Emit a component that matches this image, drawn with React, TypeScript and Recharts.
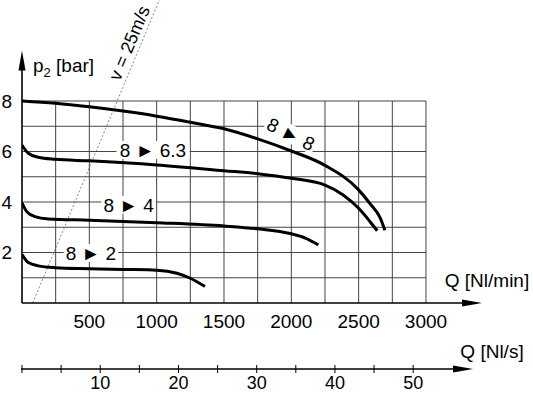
import React from 'react'
import { LineChart, Line, XAxis, YAxis, ReferenceLine, ReferenceDot } from 'recharts'

// flow in Nl/min and outlet pressure p2 in bar
const q88 = [0, 250, 500, 750, 1000, 1250, 1500, 1750, 2000, 2250, 2500, 2585, 2660, 2695]
const p88 = [8.0, 7.91, 7.77, 7.6, 7.4, 7.16, 6.9, 6.5, 6.02, 5.45, 4.48, 3.93, 3.37, 2.88]

const q863 = [0, 47, 121, 245, 500, 1000, 1500, 1750, 2000, 2250, 2385, 2500, 2585, 2638]
const p863 = [6.25, 5.93, 5.77, 5.69, 5.63, 5.47, 5.24, 5.12, 4.94, 4.67, 4.28, 3.75, 3.22, 2.86]

const q84 = [0, 35, 97, 196, 500, 1000, 1500, 1750, 2000, 2100, 2200]
const p84 = [3.97, 3.62, 3.42, 3.33, 3.28, 3.18, 3.05, 2.94, 2.74, 2.58, 2.3]

const q82 = [0, 47, 121, 245, 500, 750, 1000, 1150, 1250, 1359]
const p82 = [1.92, 1.6, 1.47, 1.4, 1.36, 1.33, 1.3, 1.18, 0.98, 0.65]

// v = 25 m/s limit line
const qSpeed = [80, 1020]
const pSpeed = [0, 12]

const qTicks = [500, 1000, 1500, 2000, 2500, 3000]
const pTicks = [2, 4, 6, 8]
const qGrid = [250, 500, 750, 1000, 1250, 1500, 1750, 2000, 2250, 2500, 2750, 3000]
const pGrid = [1, 2, 3, 4, 5, 6, 7, 8]
// second flow scale in Nl/s
const sTicks = [0, 5, 10, 15, 20, 25, 30, 35, 40, 45, 50]

const Q_MAX = 3416
const P_ARROW = 10
const S_MAX = 58.8

const tags = [
  { text: '8 \u25BA 8', q: 1997, p: 6.69, angle: 27 },
  { text: '8 \u25BA 6.3', q: 973, p: 6.06, angle: 0 },
  { text: '8 \u25BA 4', q: 792, p: 3.89, angle: 0 },
  { text: '8 \u25BA 2', q: 512, p: 1.98, angle: 0 },
]

const toPts = (xs: number[], ys: number[]) => xs.map((x, i) => ({ x, y: ys[i] }))

const curves = [
  { name: '8-8', data: toPts(q88, p88) },
  { name: '8-6.3', data: toPts(q863, p863) },
  { name: '8-4', data: toPts(q84, p84) },
  { name: '8-2', data: toPts(q82, p82) },
]

const FS = 19

function XArrow(props: any) {
  const { x1, y1, x2 } = props
  return (
    <g>
      <line x1={x1} y1={y1} x2={x2 - 12} y2={y1} stroke="#000" strokeWidth={1.6} />
      <polygon points={`${x2},${y1} ${x2 - 20},${y1 - 3.5} ${x2 - 20},${y1 + 3.5}`} fill="#000" />
      <text x={x2 + 5} y={y1 - 16} textAnchor="middle" fontSize={FS} fill="#000">Q [Nl/min]</text>
    </g>
  )
}

function YArrow(props: any) {
  const { x1, y1, y2 } = props
  return (
    <g>
      <line x1={x1} y1={y1} x2={x1} y2={y2 + 12} stroke="#000" strokeWidth={1.6} />
      <polygon points={`${x1},${y2} ${x1 - 3.5},${y2 + 20} ${x1 + 3.5},${y2 + 20}`} fill="#000" />
      <text x={x1 + 11} y={y2 + 21} fontSize={FS} fill="#000">
        p<tspan fontSize={13} dy={5}>2</tspan><tspan dy={-5}> [bar]</tspan>
      </text>
    </g>
  )
}

function NlsAxis(props: any) {
  const { x, y, width } = props.viewBox
  const end = x + width - 9
  return (
    <g>
      <line x1={x - 1} y1={y} x2={end - 12} y2={y} stroke="#000" strokeWidth={1.6} />
      <polygon points={`${end},${y} ${end - 20},${y - 3.5} ${end - 20},${y + 3.5}`} fill="#000" />
      <text x={end + 19} y={y - 11} textAnchor="middle" fontSize={FS} fill="#000">Q [Nl/s]</text>
    </g>
  )
}

function NlsTick(props: any) {
  const { x, y, payload } = props
  return (
    <g>
      <line x1={x} y1={y - 4} x2={x} y2={y + 4} stroke="#000" strokeWidth={1} />
      {payload.value > 0 && payload.value % 10 === 0 && (
        <text x={x} y={y + 20} textAnchor="middle" fontSize={18} fill="#000">{payload.value}</text>
      )}
    </g>
  )
}

function Tag(props: any) {
  const { cx, cy, text, angle } = props
  const w = text.length * 9.3 + 8
  return (
    <g transform={`rotate(${angle} ${cx} ${cy})`}>
      <rect x={cx - w / 2} y={cy - 9} width={w} height={18} fill="#fff" />
      <text x={cx} y={cy} dy="0.36em" textAnchor="middle" fontSize={FS} fill="#000">{text}</text>
    </g>
  )
}

function SpeedTag(props: any) {
  const { cx, cy } = props
  return (
    <text x={cx} y={cy} dy="0.36em" textAnchor="middle" fontSize={18} fill="#000"
      transform={`rotate(-67.3 ${cx} ${cy})`}>v = 25m/s</text>
  )
}

export default function App() {
  return (
    <div style={{ position: 'absolute', left: 0, top: 0, fontFamily: '"Liberation Sans", Arial, sans-serif' }}>
      <LineChart width={533} height={393} margin={{ top: 0, right: 51, left: 0, bottom: 0 }}>
        <XAxis
          type="number"
          dataKey="x"
          domain={[0, Q_MAX]}
          ticks={qTicks}
          height={66}
          axisLine={false}
          tickLine={false}
          tickSize={0}
          tickMargin={12}
          tick={{ fill: '#000', fontSize: FS }}
          allowDataOverflow
        />
        <XAxis
          xAxisId="s"
          type="number"
          dataKey="x"
          domain={[0, S_MAX]}
          ticks={sTicks}
          height={24}
          axisLine={false}
          tickLine={false}
          tickSize={0}
          tickMargin={0}
          tick={<NlsTick />}
          label={<NlsAxis />}
          allowDataOverflow
          interval={0}
        />
        <YAxis
          type="number"
          domain={[0, 12]}
          ticks={pTicks}
          width={22}
          axisLine={false}
          tickLine={false}
          tickSize={0}
          tickMargin={10}
          tick={{ fill: '#000', fontSize: FS }}
          allowDataOverflow
        />
        {qGrid.map((q) => (
          <ReferenceLine key={'gv' + q} segment={[{ x: q, y: 0 }, { x: q, y: 8 }]} stroke="#444" strokeWidth={1} ifOverflow="visible" />
        ))}
        {pGrid.map((p) => (
          <ReferenceLine key={'gh' + p} segment={[{ x: 0, y: p }, { x: 3000, y: p }]} stroke="#444" strokeWidth={1} ifOverflow="visible" />
        ))}
        {/* invisible carrier so the Nl/s axis gets a scale */}
        <Line
          xAxisId="s"
          data={sTicks.map((s) => ({ x: s, y: 0 }))}
          dataKey="y"
          stroke="none"
          dot={false}
          activeDot={false}
          isAnimationActive={false}
        />
        <Line
          data={toPts(qSpeed, pSpeed)}
          dataKey="y"
          type="linear"
          stroke="#666"
          strokeWidth={0.8}
          strokeDasharray="2 2"
          dot={false}
          isAnimationActive={false}
        />
        {curves.map((c) => (
          <Line
            key={c.name}
            data={c.data}
            dataKey="y"
            type="monotone"
            stroke="#000"
            strokeWidth={3}
            dot={false}
            isAnimationActive={false}
          />
        ))}
        {tags.map((t) => (
          <ReferenceDot key={t.text} x={t.q} y={t.p} r={0} shape={(p: any) => <Tag {...p} text={t.text} angle={t.angle} />} />
        ))}
        <ReferenceDot x={795} y={10.3} r={0} shape={(p: any) => <SpeedTag {...p} />} />
        <ReferenceLine segment={[{ x: 0, y: 0 }, { x: Q_MAX, y: 0 }]} shape={(p: any) => <XArrow {...p} />} ifOverflow="visible" />
        <ReferenceLine segment={[{ x: 0, y: 0 }, { x: 0, y: P_ARROW }]} shape={(p: any) => <YArrow {...p} />} ifOverflow="visible" />
      </LineChart>
    </div>
  )
}
